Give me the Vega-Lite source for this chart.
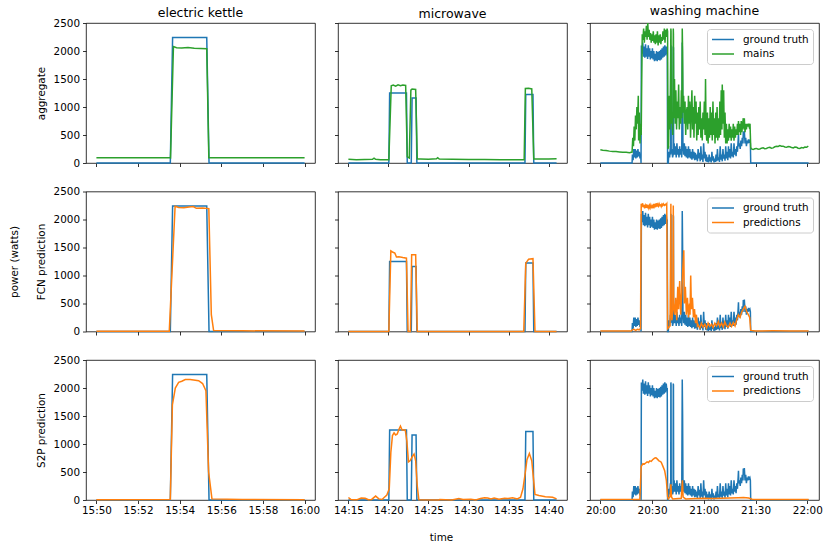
{
  "$schema": "https://vega.github.io/schema/vega-lite/v6.json",
  "padding": {"left": 8, "top": 4, "right": 5, "bottom": 5},
  "background": "white",
  "config": {
    "font": "DejaVu Sans",
    "view": {"stroke": "#000", "strokeWidth": 0.8},
    "axis": {"grid": false, "domain": false, "tickColor": "#000", "tickSize": 3.5, "tickWidth": 0.8, "labelFont": "DejaVu Sans", "labelFontSize": 10.4, "labelColor": "#000", "labelPadding": 3, "titleFont": "DejaVu Sans", "titleFontSize": 10.4, "titleFontWeight": "normal", "titleColor": "#000"},
    "axisY": {"format": "d"},
    "axisX": {"labelPadding": 2},
    "title": {"font": "DejaVu Sans", "fontSize": 12.5, "fontWeight": "normal", "color": "#000", "offset": 2.5},
    "legend": {"offset": 6, "padding": 4, "strokeColor": "#cccccc", "fillColor": "rgba(255,255,255,0.8)", "cornerRadius": 3, "symbolType": "M-1,0H3", "symbolSize": 121, "symbolStrokeWidth": 1.5, "labelFont": "DejaVu Sans", "labelFontSize": 10.4, "labelColor": "#000", "labelOffset": 19, "rowPadding": 2.5, "labelLimit": 200},
    "line": {"strokeWidth": 1.5}
  },
  "datasets": {
    "kgt": [{"t":950,"v":0},{"t":953.55,"v":0},{"t":953.66,"v":2240},{"t":955.3,"v":2240},{"t":955.41,"v":0},{"t":960,"v":0}],
    "k1": [{"t":950,"v":94},{"t":951,"v":93},{"t":952,"v":94},{"t":953.5,"v":93},{"t":953.56,"v":90},{"t":953.7,"v":2080},{"t":953.85,"v":2060},{"t":954.1,"v":2055},{"t":954.4,"v":2062},{"t":954.7,"v":2050},{"t":955.0,"v":2045},{"t":955.3,"v":2040},{"t":955.4,"v":95},{"t":956,"v":94},{"t":958,"v":93},{"t":960,"v":93}],
    "k2": [{"t":950,"v":5},{"t":953.5,"v":5},{"t":953.78,"v":2235},{"t":953.95,"v":2215},{"t":954.2,"v":2210},{"t":954.45,"v":2225},{"t":954.65,"v":2230},{"t":954.8,"v":2200},{"t":955.1,"v":2205},{"t":955.4,"v":2195},{"t":955.52,"v":300},{"t":955.63,"v":18},{"t":957,"v":12},{"t":960,"v":8}],
    "k3": [{"t":950,"v":5},{"t":953.5,"v":8},{"t":953.55,"v":10},{"t":953.65,"v":1700},{"t":953.79,"v":2000},{"t":953.95,"v":2100},{"t":954.1,"v":2120},{"t":954.27,"v":2150},{"t":954.5,"v":2150},{"t":954.75,"v":2140},{"t":954.91,"v":2130},{"t":955.1,"v":2080},{"t":955.26,"v":1950},{"t":955.39,"v":500},{"t":955.55,"v":20},{"t":957,"v":10},{"t":960,"v":5}],
    "mgt": [{"t":855,"v":0},{"t":860.05,"v":0},{"t":860.15,"v":1250},{"t":862.25,"v":1250},{"t":862.35,"v":0},{"t":862.85,"v":0},{"t":862.95,"v":1160},{"t":863.45,"v":1160},{"t":863.55,"v":0},{"t":877.05,"v":0},{"t":877.15,"v":1225},{"t":878.05,"v":1225},{"t":878.15,"v":0},{"t":881,"v":0}],
    "m1": [{"t":855,"v":65},{"t":856,"v":60},{"t":857,"v":62},{"t":858,"v":65},{"t":858.2,"v":85},{"t":858.4,"v":65},{"t":859,"v":60},{"t":860.05,"v":60},{"t":860.35,"v":1380},{"t":860.6,"v":1392},{"t":860.9,"v":1372},{"t":861.2,"v":1395},{"t":861.5,"v":1380},{"t":861.8,"v":1392},{"t":862.15,"v":1385},{"t":862.35,"v":110},{"t":862.6,"v":90},{"t":862.8,"v":1300},{"t":862.95,"v":1320},{"t":863.4,"v":1312},{"t":863.6,"v":72},{"t":864,"v":70},{"t":865,"v":68},{"t":866,"v":75},{"t":866.15,"v":95},{"t":866.35,"v":70},{"t":868,"v":65},{"t":870,"v":62},{"t":872,"v":62},{"t":874,"v":58},{"t":876,"v":60},{"t":876.95,"v":60},{"t":877.1,"v":1330},{"t":877.5,"v":1335},{"t":877.9,"v":1322},{"t":878.15,"v":72},{"t":879,"v":72},{"t":880,"v":70},{"t":881,"v":75}],
    "m2": [{"t":855,"v":0},{"t":860.05,"v":0},{"t":860.3,"v":1440},{"t":860.5,"v":1420},{"t":860.8,"v":1400},{"t":861.0,"v":1330},{"t":861.3,"v":1335},{"t":861.8,"v":1320},{"t":862.25,"v":1310},{"t":862.45,"v":0},{"t":862.75,"v":0},{"t":862.9,"v":1370},{"t":863.4,"v":1370},{"t":863.6,"v":0},{"t":876.9,"v":0},{"t":877.15,"v":1220},{"t":877.5,"v":1290},{"t":878.05,"v":1300},{"t":878.3,"v":0},{"t":881,"v":0}],
    "m3": [{"t":855,"v":45},{"t":855.3,"v":10},{"t":855.7,"v":5},{"t":856.1,"v":5},{"t":856.6,"v":35},{"t":857.1,"v":30},{"t":857.5,"v":5},{"t":857.9,"v":10},{"t":858.4,"v":70},{"t":858.8,"v":20},{"t":859.2,"v":10},{"t":859.5,"v":50},{"t":859.8,"v":90},{"t":860.1,"v":200},{"t":860.3,"v":850},{"t":860.5,"v":1150},{"t":860.7,"v":1200},{"t":860.9,"v":1160},{"t":861.1,"v":1180},{"t":861.3,"v":1260},{"t":861.5,"v":1320},{"t":861.7,"v":1250},{"t":862.1,"v":1250},{"t":862.3,"v":1050},{"t":862.5,"v":680},{"t":862.7,"v":700},{"t":863.0,"v":780},{"t":863.2,"v":820},{"t":863.4,"v":700},{"t":863.6,"v":250},{"t":863.8,"v":5},{"t":866.3,"v":0},{"t":866.4,"v":10},{"t":867.9,"v":0},{"t":868.8,"v":25},{"t":869.3,"v":10},{"t":870.3,"v":15},{"t":870.9,"v":0},{"t":871.5,"v":25},{"t":872,"v":40},{"t":872.4,"v":35},{"t":872.8,"v":20},{"t":873.2,"v":35},{"t":873.8,"v":15},{"t":874.5,"v":30},{"t":874.9,"v":25},{"t":875.5,"v":40},{"t":876.1,"v":20},{"t":876.5,"v":50},{"t":876.8,"v":200},{"t":877.1,"v":500},{"t":877.3,"v":720},{"t":877.6,"v":830},{"t":877.9,"v":700},{"t":878.1,"v":400},{"t":878.3,"v":100},{"t":878.8,"v":80},{"t":879.6,"v":60},{"t":880.5,"v":50},{"t":881,"v":20}],
    "wgt": [{"t":1200,"v":0},{"t":1218.4,"v":0},{"t":1218.6,"v":150},{"t":1219.0,"v":50},{"t":1219.4,"v":250},{"t":1219.8,"v":100},{"t":1220.2,"v":250},{"t":1220.6,"v":80},{"t":1221.0,"v":220},{"t":1221.4,"v":100},{"t":1221.8,"v":250},{"t":1222.2,"v":120},{"t":1222.6,"v":200},{"t":1223.0,"v":80},{"t":1223.4,"v":150},{"t":1223.6,"v":0},{"t":1223.8,"v":2100},{"t":1224.2,"v":1950},{"t":1224.6,"v":2150},{"t":1225.0,"v":1900},{"t":1225.4,"v":2080},{"t":1225.8,"v":1880},{"t":1226.2,"v":2120},{"t":1226.6,"v":1900},{"t":1227.0,"v":2050},{"t":1227.4,"v":1860},{"t":1227.8,"v":2100},{"t":1228.2,"v":1900},{"t":1228.6,"v":2050},{"t":1229.0,"v":1850},{"t":1229.4,"v":2000},{"t":1229.8,"v":1870},{"t":1230.2,"v":2050},{"t":1230.6,"v":1850},{"t":1231.0,"v":2000},{"t":1231.4,"v":1820},{"t":1231.8,"v":1950},{"t":1232.2,"v":1830},{"t":1232.6,"v":2000},{"t":1233.0,"v":1820},{"t":1233.4,"v":1980},{"t":1233.8,"v":1840},{"t":1234.2,"v":2000},{"t":1234.6,"v":1830},{"t":1235.0,"v":2020},{"t":1235.4,"v":1850},{"t":1235.8,"v":2050},{"t":1236.2,"v":1880},{"t":1236.6,"v":2080},{"t":1237.0,"v":1900},{"t":1237.4,"v":2100},{"t":1237.8,"v":1920},{"t":1238.2,"v":2080},{"t":1238.6,"v":1950},{"t":1238.8,"v":2000},{"t":1239.0,"v":0},{"t":1239.4,"v":0},{"t":1239.8,"v":200},{"t":1240.2,"v":100},{"t":1240.6,"v":300},{"t":1240.8,"v":150},{"t":1240.9,"v":2100},{"t":1241.0,"v":2050},{"t":1241.1,"v":200},{"t":1241.5,"v":250},{"t":1241.9,"v":100},{"t":1242.2,"v":150},{"t":1242.3,"v":2080},{"t":1242.4,"v":2050},{"t":1242.5,"v":150},{"t":1242.8,"v":350},{"t":1243.2,"v":150},{"t":1243.6,"v":300},{"t":1244.0,"v":100},{"t":1244.4,"v":350},{"t":1244.8,"v":150},{"t":1245.2,"v":250},{"t":1245.6,"v":100},{"t":1246.0,"v":300},{"t":1246.4,"v":150},{"t":1246.8,"v":250},{"t":1247.2,"v":100},{"t":1247.5,"v":2150},{"t":1247.7,"v":1500},{"t":1247.9,"v":300},{"t":1248.3,"v":150},{"t":1248.7,"v":350},{"t":1249.1,"v":120},{"t":1249.5,"v":300},{"t":1249.9,"v":100},{"t":1250.3,"v":250},{"t":1250.7,"v":80},{"t":1251.1,"v":300},{"t":1251.5,"v":100},{"t":1251.9,"v":250},{"t":1252.3,"v":80},{"t":1252.7,"v":200},{"t":1253.1,"v":60},{"t":1253.5,"v":250},{"t":1253.9,"v":80},{"t":1254.3,"v":200},{"t":1254.7,"v":50},{"t":1255.1,"v":180},{"t":1255.5,"v":60},{"t":1255.9,"v":150},{"t":1256.3,"v":30},{"t":1256.7,"v":250},{"t":1257.1,"v":80},{"t":1257.5,"v":180},{"t":1257.9,"v":30},{"t":1258.3,"v":300},{"t":1258.7,"v":60},{"t":1259.1,"v":150},{"t":1259.5,"v":20},{"t":1259.9,"v":350},{"t":1260.3,"v":80},{"t":1260.7,"v":200},{"t":1261.1,"v":30},{"t":1261.5,"v":150},{"t":1261.9,"v":20},{"t":1262.3,"v":100},{"t":1262.7,"v":10},{"t":1263.1,"v":150},{"t":1263.5,"v":30},{"t":1263.9,"v":100},{"t":1264.3,"v":10},{"t":1264.7,"v":200},{"t":1265.1,"v":40},{"t":1265.5,"v":120},{"t":1265.9,"v":10},{"t":1266.3,"v":80},{"t":1266.7,"v":20},{"t":1267.1,"v":150},{"t":1267.5,"v":30},{"t":1267.9,"v":250},{"t":1268.3,"v":50},{"t":1268.7,"v":100},{"t":1269.1,"v":20},{"t":1269.5,"v":300},{"t":1269.9,"v":60},{"t":1270.3,"v":150},{"t":1270.7,"v":30},{"t":1271.1,"v":250},{"t":1271.5,"v":80},{"t":1271.9,"v":150},{"t":1272.3,"v":40},{"t":1272.7,"v":300},{"t":1273.1,"v":80},{"t":1273.5,"v":200},{"t":1273.9,"v":50},{"t":1274.3,"v":300},{"t":1274.7,"v":100},{"t":1275.1,"v":250},{"t":1275.5,"v":80},{"t":1275.9,"v":350},{"t":1276.3,"v":120},{"t":1276.7,"v":200},{"t":1277.1,"v":100},{"t":1277.5,"v":350},{"t":1277.9,"v":150},{"t":1278.3,"v":250},{"t":1278.7,"v":120},{"t":1279.1,"v":300},{"t":1279.5,"v":200},{"t":1279.9,"v":400},{"t":1280.1,"v":520},{"t":1280.3,"v":300},{"t":1280.7,"v":350},{"t":1281.1,"v":250},{"t":1281.5,"v":400},{"t":1281.9,"v":300},{"t":1282.3,"v":450},{"t":1282.7,"v":350},{"t":1282.9,"v":560},{"t":1283.3,"v":450},{"t":1283.5,"v":570},{"t":1283.9,"v":350},{"t":1284.3,"v":450},{"t":1284.7,"v":300},{"t":1285.1,"v":400},{"t":1285.5,"v":350},{"t":1285.9,"v":420},{"t":1286.3,"v":380},{"t":1286.7,"v":400},{"t":1287.0,"v":350},{"t":1287.2,"v":0},{"t":1320.8,"v":0}],
    "w1": [{"t":1200,"v":235},{"t":1201.4,"v":228},{"t":1203.3,"v":222},{"t":1205.3,"v":212},{"t":1207.2,"v":205},{"t":1209.1,"v":207},{"t":1211.1,"v":198},{"t":1213.0,"v":190},{"t":1215.0,"v":192},{"t":1216.9,"v":182},{"t":1218.4,"v":195},{"t":1218.8,"v":450},{"t":1219.2,"v":300},{"t":1219.6,"v":650},{"t":1220.0,"v":400},{"t":1220.4,"v":850},{"t":1220.8,"v":600},{"t":1221.2,"v":1000},{"t":1221.6,"v":700},{"t":1222.0,"v":1200},{"t":1222.2,"v":400},{"t":1222.6,"v":900},{"t":1223.0,"v":350},{"t":1223.4,"v":700},{"t":1223.7,"v":500},{"t":1224.0,"v":1500},{"t":1224.3,"v":2300},{"t":1224.7,"v":2200},{"t":1225.1,"v":2400},{"t":1225.5,"v":2150},{"t":1225.9,"v":2350},{"t":1226.3,"v":2250},{"t":1226.7,"v":2450},{"t":1227.1,"v":2200},{"t":1227.5,"v":2500},{"t":1227.9,"v":2250},{"t":1228.3,"v":2380},{"t":1228.7,"v":2200},{"t":1229.1,"v":2320},{"t":1229.5,"v":2150},{"t":1229.9,"v":2300},{"t":1230.3,"v":2180},{"t":1230.7,"v":2350},{"t":1231.1,"v":2150},{"t":1231.5,"v":2280},{"t":1231.9,"v":2120},{"t":1232.3,"v":2300},{"t":1232.7,"v":2150},{"t":1233.1,"v":2350},{"t":1233.5,"v":2100},{"t":1233.9,"v":2280},{"t":1234.3,"v":2150},{"t":1234.7,"v":2300},{"t":1235.1,"v":2120},{"t":1235.5,"v":2250},{"t":1235.9,"v":2180},{"t":1236.3,"v":2350},{"t":1236.7,"v":2200},{"t":1237.1,"v":2400},{"t":1237.5,"v":2150},{"t":1237.9,"v":2380},{"t":1238.3,"v":2250},{"t":1238.7,"v":2400},{"t":1239.0,"v":2350},{"t":1239.2,"v":250},{"t":1239.6,"v":300},{"t":1240.0,"v":1200},{"t":1240.4,"v":600},{"t":1240.9,"v":2400},{"t":1241.0,"v":2350},{"t":1241.2,"v":700},{"t":1241.6,"v":900},{"t":1242.0,"v":500},{"t":1242.3,"v":2400},{"t":1242.4,"v":2300},{"t":1242.6,"v":800},{"t":1243.0,"v":1500},{"t":1243.4,"v":700},{"t":1243.8,"v":1300},{"t":1244.2,"v":600},{"t":1244.6,"v":1100},{"t":1245.0,"v":800},{"t":1245.4,"v":1400},{"t":1245.8,"v":600},{"t":1246.2,"v":1000},{"t":1246.6,"v":700},{"t":1247.0,"v":1300},{"t":1247.3,"v":800},{"t":1247.5,"v":2400},{"t":1247.7,"v":2000},{"t":1247.9,"v":900},{"t":1248.3,"v":1200},{"t":1248.7,"v":700},{"t":1249.1,"v":1100},{"t":1249.5,"v":500},{"t":1249.9,"v":900},{"t":1250.3,"v":1000},{"t":1250.7,"v":600},{"t":1251.1,"v":1200},{"t":1251.5,"v":700},{"t":1251.9,"v":1100},{"t":1252.3,"v":450},{"t":1252.7,"v":900},{"t":1253.1,"v":1300},{"t":1253.5,"v":600},{"t":1253.9,"v":1000},{"t":1254.3,"v":450},{"t":1254.7,"v":1200},{"t":1255.1,"v":700},{"t":1255.5,"v":1100},{"t":1255.9,"v":400},{"t":1256.3,"v":900},{"t":1256.7,"v":500},{"t":1257.1,"v":1000},{"t":1257.5,"v":600},{"t":1257.9,"v":1100},{"t":1258.3,"v":450},{"t":1258.7,"v":800},{"t":1259.1,"v":400},{"t":1259.5,"v":900},{"t":1259.9,"v":600},{"t":1260.3,"v":1100},{"t":1260.7,"v":500},{"t":1261.0,"v":1500},{"t":1261.3,"v":600},{"t":1261.7,"v":400},{"t":1262.1,"v":900},{"t":1262.5,"v":350},{"t":1262.9,"v":800},{"t":1263.3,"v":450},{"t":1263.7,"v":1000},{"t":1264.1,"v":500},{"t":1264.5,"v":900},{"t":1264.9,"v":400},{"t":1265.3,"v":1100},{"t":1265.7,"v":500},{"t":1266.1,"v":800},{"t":1266.5,"v":350},{"t":1266.9,"v":900},{"t":1267.3,"v":450},{"t":1267.7,"v":1000},{"t":1268.1,"v":400},{"t":1268.5,"v":800},{"t":1268.9,"v":450},{"t":1269.3,"v":1100},{"t":1269.7,"v":500},{"t":1270.1,"v":1300},{"t":1270.5,"v":600},{"t":1270.7,"v":1400},{"t":1271.1,"v":700},{"t":1271.5,"v":1300},{"t":1271.9,"v":450},{"t":1272.3,"v":900},{"t":1272.7,"v":350},{"t":1273.1,"v":700},{"t":1273.5,"v":350},{"t":1273.9,"v":600},{"t":1274.3,"v":400},{"t":1274.7,"v":700},{"t":1275.1,"v":450},{"t":1275.5,"v":650},{"t":1275.9,"v":400},{"t":1276.3,"v":600},{"t":1276.7,"v":450},{"t":1277.1,"v":700},{"t":1277.5,"v":400},{"t":1277.9,"v":650},{"t":1278.3,"v":450},{"t":1278.7,"v":600},{"t":1279.1,"v":500},{"t":1279.5,"v":700},{"t":1279.9,"v":500},{"t":1280.1,"v":750},{"t":1280.5,"v":550},{"t":1280.9,"v":700},{"t":1281.3,"v":500},{"t":1281.7,"v":750},{"t":1282.1,"v":550},{"t":1282.5,"v":700},{"t":1282.9,"v":800},{"t":1283.3,"v":600},{"t":1283.5,"v":800},{"t":1283.9,"v":550},{"t":1284.3,"v":700},{"t":1284.7,"v":600},{"t":1285.1,"v":700},{"t":1285.5,"v":650},{"t":1285.9,"v":700},{"t":1286.3,"v":650},{"t":1286.8,"v":700},{"t":1287.2,"v":280},{"t":1287.6,"v":250},{"t":1288.6,"v":240},{"t":1289.5,"v":255},{"t":1290.5,"v":260},{"t":1291.5,"v":245},{"t":1292.5,"v":250},{"t":1293.4,"v":265},{"t":1294.4,"v":270},{"t":1295.3,"v":255},{"t":1296.3,"v":260},{"t":1297.3,"v":275},{"t":1298.3,"v":280},{"t":1299.2,"v":265},{"t":1300.2,"v":270},{"t":1301.2,"v":290},{"t":1302.2,"v":300},{"t":1303.1,"v":295},{"t":1304.1,"v":310},{"t":1305.0,"v":300},{"t":1306.0,"v":300},{"t":1307.0,"v":285},{"t":1308.0,"v":280},{"t":1308.9,"v":295},{"t":1309.9,"v":290},{"t":1310.9,"v":275},{"t":1311.9,"v":270},{"t":1312.8,"v":285},{"t":1313.8,"v":280},{"t":1314.7,"v":265},{"t":1315.7,"v":260},{"t":1316.7,"v":275},{"t":1317.7,"v":270},{"t":1318.6,"v":285},{"t":1319.6,"v":280},{"t":1320.6,"v":300}],
    "w2": [{"t":1200,"v":10},{"t":1218.0,"v":10},{"t":1218.5,"v":30},{"t":1219.5,"v":40},{"t":1220.5,"v":20},{"t":1221.5,"v":40},{"t":1222.5,"v":30},{"t":1223.3,"v":50},{"t":1223.7,"v":2280},{"t":1224.1,"v":2250},{"t":1224.5,"v":2290},{"t":1224.9,"v":2220},{"t":1225.3,"v":2260},{"t":1225.7,"v":2200},{"t":1226.1,"v":2250},{"t":1226.5,"v":2210},{"t":1226.9,"v":2270},{"t":1227.3,"v":2220},{"t":1227.7,"v":2240},{"t":1228.1,"v":2200},{"t":1228.5,"v":2250},{"t":1228.9,"v":2210},{"t":1229.3,"v":2260},{"t":1229.7,"v":2220},{"t":1230.1,"v":2240},{"t":1230.5,"v":2200},{"t":1230.9,"v":2280},{"t":1231.3,"v":2230},{"t":1231.7,"v":2260},{"t":1232.1,"v":2220},{"t":1232.5,"v":2290},{"t":1232.9,"v":2230},{"t":1233.3,"v":2270},{"t":1233.7,"v":2240},{"t":1234.1,"v":2280},{"t":1234.5,"v":2250},{"t":1234.9,"v":2260},{"t":1235.3,"v":2230},{"t":1235.7,"v":2270},{"t":1236.1,"v":2250},{"t":1236.5,"v":2280},{"t":1236.9,"v":2260},{"t":1237.3,"v":2250},{"t":1237.7,"v":2270},{"t":1238.1,"v":2260},{"t":1238.5,"v":2280},{"t":1239.0,"v":50},{"t":1240.4,"v":100},{"t":1240.9,"v":2280},{"t":1241.1,"v":300},{"t":1241.5,"v":200},{"t":1242.0,"v":400},{"t":1242.3,"v":2250},{"t":1242.5,"v":500},{"t":1243.1,"v":300},{"t":1243.7,"v":600},{"t":1244.3,"v":200},{"t":1244.9,"v":800},{"t":1245.4,"v":400},{"t":1246.0,"v":900},{"t":1246.6,"v":300},{"t":1247.2,"v":700},{"t":1247.8,"v":1100},{"t":1248.4,"v":1450},{"t":1248.7,"v":500},{"t":1249.3,"v":800},{"t":1249.9,"v":300},{"t":1250.5,"v":600},{"t":1251.1,"v":250},{"t":1251.7,"v":500},{"t":1252.0,"v":300},{"t":1252.4,"v":1000},{"t":1252.8,"v":400},{"t":1253.4,"v":600},{"t":1254.0,"v":250},{"t":1254.6,"v":400},{"t":1255.2,"v":150},{"t":1255.7,"v":300},{"t":1256.3,"v":100},{"t":1256.7,"v":120},{"t":1257.7,"v":60},{"t":1258.6,"v":150},{"t":1259.6,"v":80},{"t":1260.6,"v":130},{"t":1261.6,"v":60},{"t":1262.5,"v":150},{"t":1263.5,"v":90},{"t":1264.5,"v":130},{"t":1265.4,"v":70},{"t":1266.4,"v":150},{"t":1267.4,"v":100},{"t":1268.4,"v":180},{"t":1269.3,"v":90},{"t":1270.3,"v":150},{"t":1271.3,"v":80},{"t":1272.2,"v":170},{"t":1273.2,"v":100},{"t":1274.2,"v":80},{"t":1275.2,"v":150},{"t":1276.1,"v":90},{"t":1277.1,"v":160},{"t":1278.1,"v":100},{"t":1279.0,"v":200},{"t":1280.0,"v":300},{"t":1281.0,"v":250},{"t":1282.0,"v":350},{"t":1282.9,"v":400},{"t":1283.9,"v":450},{"t":1284.9,"v":350},{"t":1285.8,"v":300},{"t":1286.6,"v":250},{"t":1287.2,"v":20},{"t":1290,"v":10},{"t":1300,"v":12},{"t":1310,"v":10},{"t":1320.8,"v":10}],
    "w3": [{"t":1200,"v":10},{"t":1222.9,"v":12},{"t":1223.7,"v":600},{"t":1224.1,"v":620},{"t":1224.7,"v":650},{"t":1225.5,"v":640},{"t":1226.3,"v":660},{"t":1227.1,"v":680},{"t":1227.9,"v":670},{"t":1228.7,"v":700},{"t":1229.5,"v":690},{"t":1230.3,"v":720},{"t":1231.1,"v":740},{"t":1231.8,"v":755},{"t":1232.4,"v":750},{"t":1233.2,"v":725},{"t":1234.0,"v":700},{"t":1234.6,"v":690},{"t":1235.3,"v":675},{"t":1236.3,"v":600},{"t":1237.3,"v":525},{"t":1238.3,"v":346},{"t":1239.0,"v":60},{"t":1239.4,"v":20},{"t":1240.4,"v":60},{"t":1240.9,"v":280},{"t":1241.3,"v":50},{"t":1242.0,"v":20},{"t":1246.9,"v":30},{"t":1247.3,"v":200},{"t":1247.6,"v":350},{"t":1248.0,"v":50},{"t":1249.5,"v":20},{"t":1255,"v":25},{"t":1260,"v":30},{"t":1265,"v":25},{"t":1270,"v":30},{"t":1275,"v":35},{"t":1280,"v":40},{"t":1283,"v":45},{"t":1286,"v":35},{"t":1288,"v":15},{"t":1290,"v":10},{"t":1320.8,"v":10}]
  },
  "spacing": 16.5,
  "resolve": {"scale": {"color": "independent"}, "legend": {"color": "independent"}},
  "vconcat": [
    {
      "hconcat": [
        {
          "width": 229, "height": 140, "title": {"text": "electric kettle", "offset": -1.5},
          "encoding": {
            "x": {"field": "t", "type": "quantitative", "scale": {"domain": [949.5, 960.5], "nice": false, "zero": false}, "axis": {"values": [950, 952, 954, 956, 958, 960], "labels": false, "title": null}},
            "y": {"field": "v", "type": "quantitative", "scale": {"domain": [0, 2500], "nice": false}, "axis": {"values": [0, 500, 1000, 1500, 2000, 2500], "title": "aggregate", "titlePadding": 7}}
          },
          "layer": [
            {"data": {"name": "kgt"}, "mark": "line", "encoding": {"color": {"datum": "ground truth", "type": "nominal", "scale": {"domain": ["ground truth", "mains"], "range": ["#1f77b4", "#2ca02c"]}, "legend": null}}},
            {"data": {"name": "k1"}, "mark": "line", "encoding": {"color": {"datum": "mains", "type": "nominal", "scale": {"domain": ["ground truth", "mains"], "range": ["#1f77b4", "#2ca02c"]}, "legend": null}}}
          ]
        },
        {
          "width": 229, "height": 140, "title": "microwave",
          "encoding": {
            "x": {"field": "t", "type": "quantitative", "scale": {"domain": [853.7, 882.3], "nice": false, "zero": false}, "axis": {"values": [855, 860, 865, 870, 875, 880], "labels": false, "title": null}},
            "y": {"field": "v", "type": "quantitative", "scale": {"domain": [0, 2500], "nice": false}, "axis": {"values": [0, 500, 1000, 1500, 2000, 2500], "labels": false, "title": null}}
          },
          "layer": [
            {"data": {"name": "mgt"}, "mark": "line", "encoding": {"color": {"datum": "ground truth", "type": "nominal", "scale": {"domain": ["ground truth", "mains"], "range": ["#1f77b4", "#2ca02c"]}, "legend": null}}},
            {"data": {"name": "m1"}, "mark": "line", "encoding": {"color": {"datum": "mains", "type": "nominal", "scale": {"domain": ["ground truth", "mains"], "range": ["#1f77b4", "#2ca02c"]}, "legend": null}}}
          ]
        },
        {
          "width": 229, "height": 140, "title": "washing machine",
          "encoding": {
            "x": {"field": "t", "type": "quantitative", "scale": {"domain": [1194, 1326.8], "nice": false, "zero": false}, "axis": {"values": [1200, 1230, 1260, 1290, 1320], "labels": false, "title": null}},
            "y": {"field": "v", "type": "quantitative", "scale": {"domain": [0, 2500], "nice": false}, "axis": {"values": [0, 500, 1000, 1500, 2000, 2500], "labels": false, "title": null}}
          },
          "layer": [
            {"data": {"name": "wgt"}, "mark": "line", "encoding": {"color": {"datum": "ground truth", "type": "nominal", "scale": {"domain": ["ground truth", "mains"], "range": ["#1f77b4", "#2ca02c"]}, "legend": {"orient": "top-right", "title": null}}}},
            {"data": {"name": "w1"}, "mark": "line", "encoding": {"color": {"datum": "mains", "type": "nominal", "scale": {"domain": ["ground truth", "mains"], "range": ["#1f77b4", "#2ca02c"]}, "legend": {"orient": "top-right", "title": null}}}}
          ]
        }
      ],
      "spacing": 23,
      "bounds": "flush",
      "resolve": {"scale": {"color": "independent"}, "legend": {"color": "independent"}}
    },
    {
      "hconcat": [
        {
          "width": 229, "height": 140,
          "encoding": {
            "x": {"field": "t", "type": "quantitative", "scale": {"domain": [949.5, 960.5], "nice": false, "zero": false}, "axis": {"values": [950, 952, 954, 956, 958, 960], "labels": false, "title": null}},
            "y": {"field": "v", "type": "quantitative", "scale": {"domain": [0, 2500], "nice": false}, "axis": {"values": [0, 500, 1000, 1500, 2000, 2500], "title": ["power (watts)", "FCN prediction"], "titleLineHeight": 27, "titlePadding": 7}}
          },
          "layer": [
            {"data": {"name": "kgt"}, "mark": "line", "encoding": {"color": {"datum": "ground truth", "type": "nominal", "scale": {"domain": ["ground truth", "predictions"], "range": ["#1f77b4", "#ff7f0e"]}, "legend": null}}},
            {"data": {"name": "k2"}, "mark": "line", "encoding": {"color": {"datum": "predictions", "type": "nominal", "scale": {"domain": ["ground truth", "predictions"], "range": ["#1f77b4", "#ff7f0e"]}, "legend": null}}}
          ]
        },
        {
          "width": 229, "height": 140,
          "encoding": {
            "x": {"field": "t", "type": "quantitative", "scale": {"domain": [853.7, 882.3], "nice": false, "zero": false}, "axis": {"values": [855, 860, 865, 870, 875, 880], "labels": false, "title": null}},
            "y": {"field": "v", "type": "quantitative", "scale": {"domain": [0, 2500], "nice": false}, "axis": {"values": [0, 500, 1000, 1500, 2000, 2500], "labels": false, "title": null}}
          },
          "layer": [
            {"data": {"name": "mgt"}, "mark": "line", "encoding": {"color": {"datum": "ground truth", "type": "nominal", "scale": {"domain": ["ground truth", "predictions"], "range": ["#1f77b4", "#ff7f0e"]}, "legend": null}}},
            {"data": {"name": "m2"}, "mark": "line", "encoding": {"color": {"datum": "predictions", "type": "nominal", "scale": {"domain": ["ground truth", "predictions"], "range": ["#1f77b4", "#ff7f0e"]}, "legend": null}}}
          ]
        },
        {
          "width": 229, "height": 140,
          "encoding": {
            "x": {"field": "t", "type": "quantitative", "scale": {"domain": [1194, 1326.8], "nice": false, "zero": false}, "axis": {"values": [1200, 1230, 1260, 1290, 1320], "labels": false, "title": null}},
            "y": {"field": "v", "type": "quantitative", "scale": {"domain": [0, 2500], "nice": false}, "axis": {"values": [0, 500, 1000, 1500, 2000, 2500], "labels": false, "title": null}}
          },
          "layer": [
            {"data": {"name": "wgt"}, "mark": "line", "encoding": {"color": {"datum": "ground truth", "type": "nominal", "scale": {"domain": ["ground truth", "predictions"], "range": ["#1f77b4", "#ff7f0e"]}, "legend": {"orient": "top-right", "title": null}}}},
            {"data": {"name": "w2"}, "mark": "line", "encoding": {"color": {"datum": "predictions", "type": "nominal", "scale": {"domain": ["ground truth", "predictions"], "range": ["#1f77b4", "#ff7f0e"]}, "legend": {"orient": "top-right", "title": null}}}}
          ]
        }
      ],
      "spacing": 23,
      "bounds": "flush",
      "resolve": {"scale": {"color": "independent"}, "legend": {"color": "independent"}}
    },
    {
      "hconcat": [
        {
          "width": 229, "height": 140,
          "encoding": {
            "x": {"field": "t", "type": "quantitative", "scale": {"domain": [949.5, 960.5], "nice": false, "zero": false}, "axis": {"values": [950, 952, 954, 956, 958, 960], "title": null, "labelExpr": "floor(datum.value / 60) + ':' + (datum.value % 60 < 10 ? '0' : '') + (datum.value % 60)"}},
            "y": {"field": "v", "type": "quantitative", "scale": {"domain": [0, 2500], "nice": false}, "axis": {"values": [0, 500, 1000, 1500, 2000, 2500], "title": "S2P prediction", "titlePadding": 7}}
          },
          "layer": [
            {"data": {"name": "kgt"}, "mark": "line", "encoding": {"color": {"datum": "ground truth", "type": "nominal", "scale": {"domain": ["ground truth", "predictions"], "range": ["#1f77b4", "#ff7f0e"]}, "legend": null}}},
            {"data": {"name": "k3"}, "mark": "line", "encoding": {"color": {"datum": "predictions", "type": "nominal", "scale": {"domain": ["ground truth", "predictions"], "range": ["#1f77b4", "#ff7f0e"]}, "legend": null}}}
          ]
        },
        {
          "width": 229, "height": 140,
          "encoding": {
            "x": {"field": "t", "type": "quantitative", "scale": {"domain": [853.7, 882.3], "nice": false, "zero": false}, "axis": {"values": [855, 860, 865, 870, 875, 880], "title": "time", "titlePadding": 17, "titleX": 103, "labelExpr": "floor(datum.value / 60) + ':' + (datum.value % 60 < 10 ? '0' : '') + (datum.value % 60)"}},
            "y": {"field": "v", "type": "quantitative", "scale": {"domain": [0, 2500], "nice": false}, "axis": {"values": [0, 500, 1000, 1500, 2000, 2500], "labels": false, "title": null}}
          },
          "layer": [
            {"data": {"name": "mgt"}, "mark": "line", "encoding": {"color": {"datum": "ground truth", "type": "nominal", "scale": {"domain": ["ground truth", "predictions"], "range": ["#1f77b4", "#ff7f0e"]}, "legend": null}}},
            {"data": {"name": "m3"}, "mark": "line", "encoding": {"color": {"datum": "predictions", "type": "nominal", "scale": {"domain": ["ground truth", "predictions"], "range": ["#1f77b4", "#ff7f0e"]}, "legend": null}}}
          ]
        },
        {
          "width": 229, "height": 140,
          "encoding": {
            "x": {"field": "t", "type": "quantitative", "scale": {"domain": [1194, 1326.8], "nice": false, "zero": false}, "axis": {"values": [1200, 1230, 1260, 1290, 1320], "title": null, "labelExpr": "floor(datum.value / 60) + ':' + (datum.value % 60 < 10 ? '0' : '') + (datum.value % 60)"}},
            "y": {"field": "v", "type": "quantitative", "scale": {"domain": [0, 2500], "nice": false}, "axis": {"values": [0, 500, 1000, 1500, 2000, 2500], "labels": false, "title": null}}
          },
          "layer": [
            {"data": {"name": "wgt"}, "mark": "line", "encoding": {"color": {"datum": "ground truth", "type": "nominal", "scale": {"domain": ["ground truth", "predictions"], "range": ["#1f77b4", "#ff7f0e"]}, "legend": {"orient": "top-right", "title": null}}}},
            {"data": {"name": "w3"}, "mark": "line", "encoding": {"color": {"datum": "predictions", "type": "nominal", "scale": {"domain": ["ground truth", "predictions"], "range": ["#1f77b4", "#ff7f0e"]}, "legend": {"orient": "top-right", "title": null}}}}
          ]
        }
      ],
      "spacing": 23,
      "bounds": "flush",
      "resolve": {"scale": {"color": "independent"}, "legend": {"color": "independent"}}
    }
  ]
}
